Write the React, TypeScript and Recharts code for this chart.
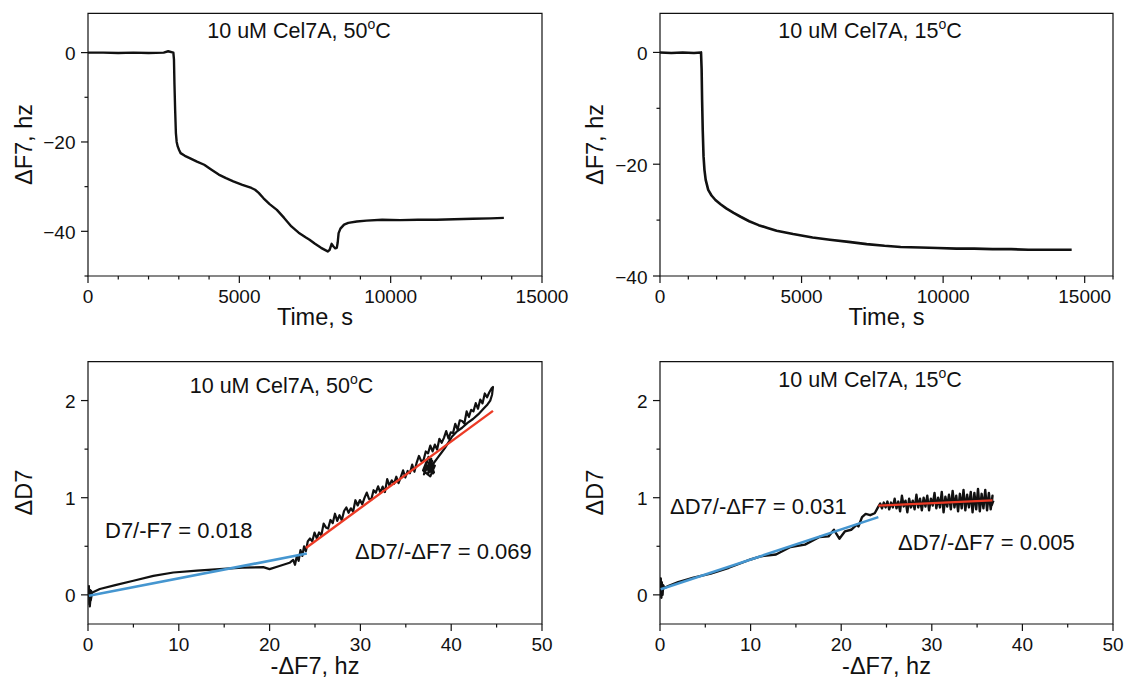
import React from 'react';
import { LineChart, Line, XAxis, YAxis, ReferenceArea } from 'recharts';

const FONT = '"Liberation Sans", Arial, Helvetica, sans-serif';
const INK = '#111';
const BLUE = '#4596d0';
const RED = '#ec3b26';

// ---- Panel A: ΔF7 vs time, 50 °C ----
const timeA = [0, 500, 1000, 1500, 2000, 2500, 2650, 2820, 2840, 2856, 2880, 2904, 2930, 2964, 3010, 3060, 3200, 3360, 3600, 3840, 4080, 4320, 4560, 4800, 5100, 5400, 5520, 5640, 5800, 6000, 6240, 6480, 6720, 6960, 7200, 7320, 7500, 7700, 7920, 7980, 8050, 8110, 8170, 8220, 8250, 8280, 8340, 8460, 8600, 8880, 9200, 9720, 10320, 10900, 11520, 12100, 12720, 13300, 13740];
const dF7A = [0, 0, -0.1, 0, -0.1, 0, 0.3, 0, -1.5, -6.9, -13, -18, -20, -21, -21.8, -22.5, -23.1, -23.6, -24.4, -25.1, -26.2, -27.3, -28.1, -28.8, -29.6, -30.3, -30.7, -31.4, -32.6, -33.9, -35.2, -37.0, -38.9, -40.3, -41.4, -41.9, -42.8, -43.7, -44.5, -44.2, -42.8, -43.4, -43.8, -43.7, -42.5, -40.4, -39.4, -38.5, -38.1, -37.8, -37.6, -37.4, -37.5, -37.4, -37.4, -37.3, -37.2, -37.1, -37.0];

// ---- Panel B: ΔF7 vs time, 15 °C ----
const timeB = [0, 400, 800, 1200, 1449, 1470, 1487, 1510, 1538, 1570, 1614, 1703, 1820, 1957, 2150, 2339, 2600, 2847, 3150, 3483, 3800, 4118, 4700, 5389, 6000, 6660, 7300, 7931, 8500, 9202, 9800, 10473, 11100, 11744, 12400, 13015, 13700, 14540];
const dF7B = [0, -0.1, 0, -0.1, 0, -3, -8.5, -14, -18.6, -21, -22.8, -24.6, -25.6, -26.4, -27.2, -27.9, -28.7, -29.4, -30.2, -30.9, -31.4, -31.9, -32.5, -33.1, -33.5, -33.9, -34.3, -34.6, -34.8, -34.9, -35.0, -35.1, -35.1, -35.2, -35.2, -35.3, -35.3, -35.3];

// ---- Panel C: ΔD7 vs -ΔF7, 50 °C ----
const negF7C = [0, 0.1, 0.15, 0.25, 0.2, 0.35, 0.3, 0.45, 0.6, 1.3, 3, 5, 7.2, 9.4, 12, 14.9, 17, 19.3, 20, 21, 22.2, 22.6, 22.8, 23.0, 23.2, 23.4, 23.6, 23.8, 24.0, 24.2,
  24.45, 24.7, 24.95, 25.2, 25.45, 25.7, 25.95, 26.2, 26.45, 26.7, 26.95, 27.2, 27.45, 27.7, 27.95, 28.2, 28.45, 28.7, 28.95, 29.2, 29.45, 29.7, 29.95, 30.2, 30.45, 30.7, 30.95, 31.2, 31.45, 31.7, 31.95, 32.2, 32.45, 32.7, 32.95, 33.2, 33.45, 33.7, 33.95, 34.2, 34.45, 34.7, 34.95, 35.2, 35.45, 35.7, 35.95, 36.2, 36.45, 36.7, 36.95, 37.2, 37.45, 37.7, 37.95, 38.2, 38.45, 38.7, 38.95, 39.2, 39.45, 39.7, 39.95, 40.2, 40.45, 40.7, 40.95, 41.2, 41.45, 41.7, 41.95, 42.2, 42.45, 42.7, 42.95, 43.2, 43.45, 43.7, 43.95, 44.2, 44.45, 44.6, 44.5,
  44.3, 44.0, 43.5, 43.0, 42.4, 41.8, 41.2, 40.6, 40.1, 39.7, 39.3, 38.9, 38.5, 38.1,
  37.8, 37.4, 37.9, 37.2, 38.1, 37.5, 36.9, 37.7, 38.2, 37.3, 37.0, 37.8, 37.4, 38.0, 37.6];
const dD7C = [0, 0.09, -0.1, 0.05, -0.12, 0.04, -0.06, 0.02, 0.03, 0.06, 0.1, 0.145, 0.195, 0.23, 0.25, 0.268, 0.28, 0.285, 0.265, 0.295, 0.33, 0.36, 0.31, 0.4, 0.35, 0.46, 0.4, 0.5, 0.45, 0.55,
  0.58, 0.551, 0.641, 0.582, 0.642, 0.613, 0.733, 0.694, 0.683, 0.771, 0.738, 0.835, 0.762, 0.82, 0.767, 0.863, 0.899, 0.845, 0.891, 0.858, 0.974, 0.92, 0.976, 0.932, 0.998, 1.053, 0.988, 0.982, 1.077, 1.052, 1.117, 1.051, 1.114, 1.058, 1.191, 1.125, 1.179, 1.142, 1.216, 1.149, 1.213, 1.281, 1.208, 1.275, 1.252, 1.34, 1.267, 1.362, 1.43, 1.377, 1.385, 1.476, 1.456, 1.536, 1.476, 1.546, 1.496, 1.606, 1.566, 1.616, 1.686, 1.609, 1.672, 1.666, 1.76, 1.703, 1.797, 1.79, 1.764, 1.888, 1.832, 1.905, 1.889, 1.973, 1.916, 2.01, 1.971, 2.073, 2.034, 2.085, 2.126, 2.14, 2.06,
  2.0, 1.96, 1.91, 1.86, 1.81, 1.77, 1.72, 1.68, 1.63, 1.57, 1.51, 1.46, 1.41, 1.36,
  1.3, 1.24, 1.38, 1.3, 1.26, 1.42, 1.28, 1.22, 1.33, 1.37, 1.24, 1.4, 1.29, 1.25, 1.34];
const fitLowXC = [0.1, 24.1];
const fitLowYC = [-0.01, 0.425];
const fitHighXC = [24.0, 44.6];
const fitHighYC = [0.483, 1.894];

// ---- Panel D: ΔD7 vs -ΔF7, 15 °C ----
const negF7D = [0, 0.08, 0.15, 0.2, 0.28, 0.35, 0.5, 0.9, 2, 3.7, 5.6, 7.6, 10, 11.2, 12.8, 14.4, 16, 17.6, 18.6, 19.2, 19.8, 20.4, 21.1, 21.7, 21.9, 22.3, 22.7, 23.2, 23.7, 24.1,
  24.3, 24.5, 24.7, 24.9, 25.1, 25.3, 25.5, 25.7, 25.9, 26.1, 26.3, 26.5, 26.7, 26.9, 27.1, 27.3, 27.5, 27.7, 27.9, 28.1, 28.3, 28.5, 28.7, 28.9, 29.1, 29.3, 29.5, 29.7, 29.9, 30.1, 30.3, 30.5, 30.7, 30.9, 31.1, 31.3, 31.5, 31.7, 31.9, 32.1, 32.3, 32.5, 32.7, 32.9, 33.1, 33.3, 33.5, 33.7, 33.9, 34.1, 34.3, 34.5, 34.7, 34.9, 35.1, 35.3, 35.5, 35.7, 35.9, 36.1, 36.3, 36.5, 36.7, 36.6, 36.8];
const dD7D = [0.05, 0.17, -0.03, 0.13, 0.0, 0.1, 0.07, 0.09, 0.13, 0.177, 0.218, 0.279, 0.364, 0.398, 0.415, 0.493, 0.517, 0.595, 0.602, 0.67, 0.578, 0.653, 0.67, 0.721, 0.704, 0.8, 0.833, 0.82, 0.84, 0.908,
  0.94, 0.89, 0.95, 0.9, 0.96, 0.88, 0.95, 0.9, 0.99, 0.89, 0.96, 0.86, 1.02, 0.91, 0.97, 0.85, 0.99, 0.9, 0.97, 0.88, 1.03, 0.9, 0.99, 0.87, 1.0, 0.91, 1.02, 0.87, 0.99, 0.92, 1.05, 0.89, 1.0, 0.9, 1.06, 0.85, 1.01, 0.91, 1.03, 0.88, 1.07, 0.9, 1.02, 0.86, 1.04, 0.89, 1.08, 0.87, 1.03, 0.9, 1.06, 0.85, 1.05, 0.88, 1.09, 0.86, 1.04, 0.89, 1.08, 0.87, 1.05, 0.88, 1.02, 0.92, 0.97];
const fitLowXD = [0.08, 24.1];
const fitLowYD = [0.058, 0.8];
const fitHighXD = [24.1, 36.7];
const fitHighYD = [0.918, 0.973];

// ---- Axis ticks ----
const timeTicksA = [0, 1000, 2000, 3000, 4000, 5000, 6000, 7000, 8000, 9000, 10000, 11000, 12000, 13000, 14000, 15000];
const timeTicksB = [0, 1000, 2000, 3000, 4000, 5000, 6000, 7000, 8000, 9000, 10000, 11000, 12000, 13000, 14000, 15000, 16000];
const timeMajors = [0, 5000, 10000, 15000];
const f7TicksA = [-50, -40, -30, -20, -10, 0];
const f7TicksB = [-40, -30, -20, -10, 0];
const f7Majors = [-40, -20, 0];
const negF7Ticks = [0, 5, 10, 15, 20, 25, 30, 35, 40, 45, 50];
const negF7Majors = [0, 10, 20, 30, 40, 50];
const d7Ticks = [0, 0.5, 1, 1.5, 2];
const d7Majors = [0, 1, 2];

type Pt = { x: number; y: number };
const zip = (xs: number[], ys: number[]): Pt[] => xs.map((x, i) => ({ x, y: ys[i] }));
const fmt = (v: number) => (v < 0 ? '\u2212' + Math.abs(v) : String(v));

function makeTick(orient: 'x' | 'y', majors: number[]) {
  return (props: any) => {
    const { x, y, payload } = props;
    const v = payload.value as number;
    const isMajor = majors.some((m) => Math.abs(m - v) < 1e-9);
    const len = isMajor ? 7 : 3.5;
    if (orient === 'x') {
      return (
        <g>
          <line x1={x} y1={y} x2={x} y2={y + len} stroke={INK} strokeWidth={1.2} />
          {isMajor && (
            <text x={x} y={y + 26.5} textAnchor="middle" fontSize={19} fontFamily={FONT} fill={INK}>
              {fmt(v)}
            </text>
          )}
        </g>
      );
    }
    return (
      <g>
        <line x1={x} y1={y} x2={x - len} y2={y} stroke={INK} strokeWidth={1.2} />
        {isMajor && (
          <text x={x - 12.5} y={y + 7.5} textAnchor="end" fontSize={19} fontFamily={FONT} fill={INK}>
            {fmt(v)}
          </text>
        )}
      </g>
    );
  };
}

type Series = { data: Pt[]; color: string; width: number };

type PanelProps = {
  left: number; top: number; width: number; height: number;
  mTop: number; mRight: number; yWidth: number; xHeight: number;
  xDomain: [number, number]; yDomain: [number, number];
  xTicks: number[]; xMajors: number[]; yTicks: number[]; yMajors: number[];
  series: Series[];
};

function Panel(p: PanelProps) {
  return (
    <div style={{ position: 'absolute', left: p.left, top: p.top, width: p.width, height: p.height }}>
      <LineChart width={p.width} height={p.height} margin={{ top: p.mTop, right: p.mRight, left: 0, bottom: 0 }}>
        <XAxis
          type="number" dataKey="x" domain={p.xDomain} ticks={p.xTicks} interval={0}
          tickSize={0} tickMargin={0} axisLine={false} tickLine={false}
          tick={makeTick('x', p.xMajors)} height={p.xHeight} allowDataOverflow
        />
        <YAxis
          type="number" domain={p.yDomain} ticks={p.yTicks} interval={0}
          tickSize={0} tickMargin={0} axisLine={false} tickLine={false}
          tick={makeTick('y', p.yMajors)} width={p.yWidth} allowDataOverflow
        />
        <ReferenceArea
          x1={p.xDomain[0]} x2={p.xDomain[1]} y1={p.yDomain[0]} y2={p.yDomain[1]}
          stroke={INK} strokeWidth={1.2} fill="none" fillOpacity={0} ifOverflow="visible"
        />
        {p.series.map((s, i) => (
          <Line key={i} data={s.data} dataKey="y" type="linear" stroke={s.color} strokeWidth={s.width}
            dot={false} activeDot={false} isAnimationActive={false} strokeLinejoin="round" />
        ))}
      </LineChart>
    </div>
  );
}

function Title({ x, y, temp }: { x: number; y: number; temp: string }) {
  return (
    <text x={x} y={y} textAnchor="middle" fontSize={21.5} fontFamily={FONT} fill={INK}>
      {'10 uM Cel7A, ' + temp}
      <tspan fontSize={14} dy={-9}>o</tspan>
      <tspan dy={9}>C</tspan>
    </text>
  );
}

function YTitle({ x, y, text }: { x: number; y: number; text: string }) {
  return (
    <text x={x} y={y} transform={`rotate(-90 ${x} ${y})`} textAnchor="middle" fontSize={23.5} fontFamily={FONT} fill={INK}>
      {text}
    </text>
  );
}

function XTitle({ x, y, text }: { x: number; y: number; text: string }) {
  return (
    <text x={x} y={y} textAnchor="middle" fontSize={23.5} fontFamily={FONT} fill={INK}>
      {text}
    </text>
  );
}

function Note({ x, y, text }: { x: number; y: number; text: string }) {
  return (
    <text x={x} y={y} fontSize={22} fontFamily={FONT} fill={INK}>
      {text}
    </text>
  );
}

export default function App() {
  return (
    <div style={{ position: 'absolute', left: 0, top: 0, width: 1125, height: 680, background: '#fff', overflow: 'hidden' }}>
      <Panel left={0} top={0} width={590} height={340} mTop={13.3} mRight={48} yWidth={88} xHeight={64}
        xDomain={[0, 15000]} yDomain={[-50, 8.8]} xTicks={timeTicksA} xMajors={timeMajors} yTicks={f7TicksA} yMajors={f7Majors}
        series={[{ data: zip(timeA, dF7A), color: INK, width: 2.4 }]} />
      <Panel left={560} top={0} width={565} height={340} mTop={13.3} mRight={12} yWidth={100} xHeight={64}
        xDomain={[0, 16000]} yDomain={[-40, 7]} xTicks={timeTicksB} xMajors={timeMajors} yTicks={f7TicksB} yMajors={f7Majors}
        series={[{ data: zip(timeB, dF7B), color: INK, width: 2.6 }]} />
      <Panel left={0} top={340} width={590} height={340} mTop={21.7} mRight={48} yWidth={88} xHeight={56}
        xDomain={[0, 50]} yDomain={[-0.3, 2.4]} xTicks={negF7Ticks} xMajors={negF7Majors} yTicks={d7Ticks} yMajors={d7Majors}
        series={[
          { data: zip(negF7C, dD7C), color: INK, width: 2.2 },
          { data: zip(fitLowXC, fitLowYC), color: BLUE, width: 2.6 },
          { data: zip(fitHighXC, fitHighYC), color: RED, width: 2.4 },
        ]} />
      <Panel left={560} top={340} width={565} height={340} mTop={21.7} mRight={12} yWidth={100} xHeight={56}
        xDomain={[0, 50]} yDomain={[-0.3, 2.4]} xTicks={negF7Ticks} xMajors={negF7Majors} yTicks={d7Ticks} yMajors={d7Majors}
        series={[
          { data: zip(negF7D, dD7D), color: INK, width: 2.4 },
          { data: zip(fitLowXD, fitLowYD), color: BLUE, width: 2.6 },
          { data: zip(fitHighXD, fitHighYD), color: RED, width: 2.4 },
        ]} />
      <svg width={1125} height={680} style={{ position: 'absolute', left: 0, top: 0, pointerEvents: 'none' }}>
        <Title x={299} y={38} temp="50" />
        <Title x={870} y={38} temp="15" />
        <Title x={281.5} y={393} temp="50" />
        <Title x={870} y={387} temp="15" />
        <YTitle x={32} y={144.5} text={'\u0394F7, hz'} />
        <YTitle x={603} y={144.5} text={'\u0394F7, hz'} />
        <YTitle x={32} y={492.5} text={'\u0394D7'} />
        <YTitle x={603} y={492.5} text={'\u0394D7'} />
        <XTitle x={315} y={325} text="Time, s" />
        <XTitle x={886.5} y={325} text="Time, s" />
        <XTitle x={315} y={674} text={'-\u0394F7, hz'} />
        <XTitle x={886.5} y={674} text={'-\u0394F7, hz'} />
        <Note x={105} y={538} text="D7/-F7 = 0.018" />
        <Note x={355} y={559} text={'\u0394D7/-\u0394F7 = 0.069'} />
        <Note x={670} y={514} text={'\u0394D7/-\u0394F7 = 0.031'} />
        <Note x={898} y={550} text={'\u0394D7/-\u0394F7 = 0.005'} />
      </svg>
    </div>
  );
}
